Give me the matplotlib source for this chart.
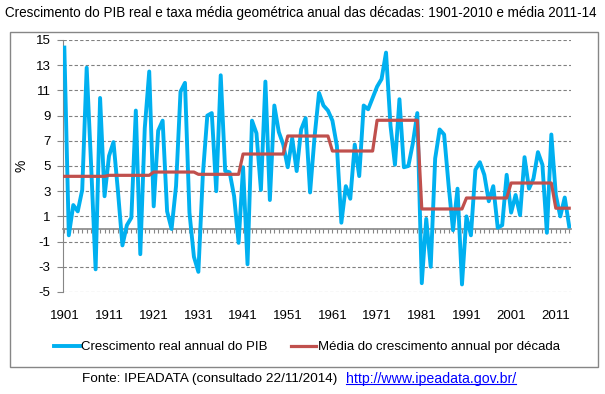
import numpy as np
import matplotlib
matplotlib.use("Agg")
import matplotlib.pyplot as plt
from matplotlib.patches import Rectangle
from matplotlib.lines import Line2D

plt.rcParams['font.family'] = ['Liberation Sans', 'DejaVu Sans']
plt.rcParams['axes.unicode_minus'] = False

years = list(range(1901, 2015))
growth = [
    14.4, -0.5, 1.9, 1.4, 3.1, 12.8, 5.0, -3.2, 10.4, 2.6,      # 1901-1910
    5.8, 6.9, 3.0, -1.3, 0.3, 0.9, 9.4, -2.0, 8.0, 12.5,        # 1911-1920
    1.8, 7.8, 8.6, 1.4, 0.0, 3.4, 10.9, 11.6, 1.3, -2.2,        # 1921-1930
    -3.4, 4.3, 9.0, 9.2, 3.0, 12.2, 4.6, 4.5, 2.6, -1.1,        # 1931-1940
    4.9, -2.8, 8.6, 7.6, 3.1, 11.7, 2.3, 9.8, 7.7, 6.7,         # 1941-1950
    4.9, 7.2, 4.6, 7.9, 8.8, 2.9, 7.3, 10.8, 9.8, 9.4,          # 1951-1960
    8.6, 6.6, 0.5, 3.4, 2.4, 6.7, 4.2, 9.8, 9.5, 10.4,          # 1961-1970
    11.3, 11.9, 14.0, 8.2, 5.1, 10.3, 4.9, 5.0, 6.8, 9.2,       # 1971-1980
    -4.3, 0.8, -3.0, 5.6, 7.9, 7.5, 3.5, -0.1, 3.2, -4.4,       # 1981-1990
    1.0, -0.5, 4.7, 5.3, 4.3, 2.2, 3.4, 0.1, 0.3, 4.3,          # 1991-2000
    1.3, 2.7, 1.1, 5.7, 3.2, 4.0, 6.1, 5.1, -0.3, 7.5,          # 2001-2010
    2.7, 1.0, 2.5, 0.2,                                         # 2011-2014
]
decade_means = [4.18, 4.26, 4.52, 4.34, 5.95, 7.38, 6.19, 8.63, 1.59, 2.46, 3.65, 1.65]
decade_lengths = [10] * 11 + [4]
decade_line = np.repeat(decade_means, decade_lengths)

xticks = list(range(1901, 2015, 10))
yticks = list(range(-5, 16, 2))

title = "Crescimento do PIB real e taxa média geométrica anual das décadas: 1901-2010 e média 2011-14"
label_blue = "Crescimento real annual do PIB"
label_red = "Média do crescimento annual por década"
source = "Fonte: IPEADATA (consultado 22/11/2014)"
link = "http://www.ipeadata.gov.br/"

fig = plt.figure(figsize=(6.05, 3.94), dpi=100)
ax = fig.add_axes([63 / 605, 1 - 292 / 394, (571 - 63) / 605, (292 - 40) / 394])

gray = "#868686"
ax.plot(years, growth, color="#00B0F0", lw=2.8, label=label_blue, zorder=3)
ax.plot(years, decade_line, color="#C0504D", lw=2.3, label=label_red, zorder=4)

ax.set_ylim(-5, 15)
ax.set_xlim(1900.7, 2014.4)
ax.set_yticks(yticks)
ax.set_xticks(xticks)
ax.yaxis.grid(True, color="#808080", lw=0.8, ls=(0, (3, 2)))
ax.set_axisbelow(True)
for s in ["top", "right", "bottom"]:
    ax.spines[s].set_visible(False)
ax.spines["left"].set_color(gray)
ax.tick_params(axis="y", direction="out", length=4, color=gray, labelsize=9.5, pad=5)
ax.tick_params(axis="x", length=0, labelsize=9.5, pad=13)
ax.set_ylabel("%", fontsize=10)
ax.yaxis.set_label_coords(-(63 - 28) / 508, 0.5)

# category axis crossing at zero, a tick for every year
zero_pos = (0 - ax.get_ylim()[0]) / (ax.get_ylim()[1] - ax.get_ylim()[0])
sec = ax.secondary_xaxis(zero_pos)
sec.set_xticks(years)
sec.set_xticklabels([])
sec.tick_params(direction="out", length=3, width=0.8, color=gray)
sec.spines["bottom"].set_color(gray)
sec.spines["bottom"].set_linewidth(1.2)

fig.legend(loc="center", bbox_to_anchor=(307 / 605, 1 - 347 / 394), ncol=2, frameon=False,
           fontsize=9.5, handlelength=1.9, handletextpad=0.1, columnspacing=1.8)

fig.text(0.008, 1 - 13 / 394, title, fontsize=9.75, va="center", ha="left")

fig.patches.append(Rectangle((10 / 605, 1 - 367 / 394), 588 / 605, 335 / 394,
                             transform=fig.transFigure, fill=False, edgecolor=gray, lw=1))

fig.text(82 / 605, 1 - 379 / 394, source, fontsize=9.7, va="center", ha="left")
t = fig.text(346 / 605, 1 - 379 / 394, link, fontsize=10.2, va="center", ha="left", color="#0000FF")
fig.canvas.draw()
bb = t.get_window_extent().transformed(fig.transFigure.inverted())
fig.lines.append(Line2D([bb.x0, bb.x1], [bb.y0 + 0.004, bb.y0 + 0.004], transform=fig.transFigure,
                        color="#0000FF", lw=0.8))

fig.savefig("out.png", dpi=100)
